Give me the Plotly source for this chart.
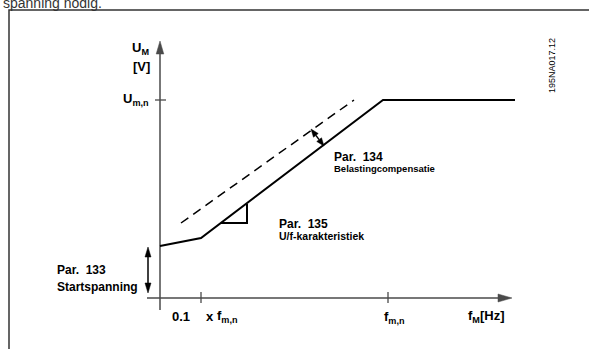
import plotly.graph_objects as go
import math

# Schematic units: x = distance right of the origin, y = distance above the f-axis
axis_x = [-13, 352]          # f-axis extent (arrow tip at the end)
axis_y = [-12, 257]          # U-axis extent (arrow tip at the end)

curve_x = [0, 41, 223, 355]  # U/f characteristic (solid)
curve_y = [52, 60, 198, 198]
comp_x = [21, 194]           # with load compensation (dashed)
comp_y = [75, 198]
slope_x = [61, 87, 87]       # slope triangle (Par. 135)
slope_y = [75, 75, 94]

start_arrow_x = [-12, -12]   # Par. 133 start voltage
start_arrow_y = [51, 5]
comp_arrow_x = [151, 164]    # Par. 134 compensation
comp_arrow_y = [169, 152]

x_ticks = [41, 228]
y_ticks = [198]

frame_x = [-151, -151, 429]
frame_y = [-51, 288, 288]

INK = "#000000"
AXIS = "#4a4a4a"
FONT = "Liberation Sans"

fig = go.Figure()


def line(xs, ys, color=INK, width=2, dash=None):
    fig.add_trace(go.Scatter(x=xs, y=ys, mode="lines",
                             line=dict(color=color, width=width, dash=dash),
                             hoverinfo="skip", showlegend=False))


def head(tx, ty, fx, fy, length, half, color=INK):
    dx, dy = tx - fx, ty - fy
    n = math.hypot(dx, dy)
    ux, uy = dx / n, dy / n
    px, py = -uy, ux
    bx, by = tx - ux * length, ty - uy * length
    fig.add_trace(go.Scatter(
        x=[tx, bx + px * half, bx - px * half, tx],
        y=[ty, by + py * half, by - py * half, ty],
        mode="lines", fill="toself", fillcolor=color,
        line=dict(color=color, width=0.5), hoverinfo="skip", showlegend=False))
    return bx, by


# frame
line(frame_x, frame_y, color="#333333", width=1.5)

# axes with arrow heads
bx, by = head(0, axis_y[1], 0, axis_y[0], 13, 3.8, AXIS)
line([0, 0], [axis_y[0], by], color=AXIS, width=1.5)
bx, by = head(axis_x[1], 0, axis_x[0], 0, 14, 4, AXIS)
line([axis_x[0], bx], [0, 0], color=AXIS, width=1.5)

# ticks
for t in x_ticks:
    line([t, t], [-5, 6], color=AXIS, width=1.3)
for t in y_ticks:
    line([-5, 6], [t, t], color=AXIS, width=1.3)

# curves
line(curve_x, curve_y, width=2)
line(comp_x, comp_y, width=1.5, dash="9px,6px")
line(slope_x, slope_y, width=2)

# double arrows
b1 = head(start_arrow_x[0], start_arrow_y[0], start_arrow_x[1], start_arrow_y[1], 10, 3)
b2 = head(start_arrow_x[1], start_arrow_y[1], start_arrow_x[0], start_arrow_y[0], 10, 3)
line([b1[0], b2[0]], [b1[1], b2[1]], width=1.5)
c1 = head(comp_arrow_x[0], comp_arrow_y[0], comp_arrow_x[1], comp_arrow_y[1], 8, 3)
c2 = head(comp_arrow_x[1], comp_arrow_y[1], comp_arrow_x[0], comp_arrow_y[0], 8, 3)
line([c1[0], c2[0]], [c1[1], c2[1]], width=1.5)


def label(text, x, y, xanchor="left", size=11, bold=True, angle=0, color=INK, family=FONT):
    fig.add_annotation(x=x, y=y, text=text, showarrow=False, xanchor=xanchor,
                       yanchor="middle", textangle=angle,
                       font=dict(family=family, size=size, color=color,
                                 weight="bold" if bold else "normal"))


label("U<sub>M</sub>", -30, 250, size=13)
label("[V]", -29, 232, size=13)
label("U<sub>m,n</sub>", -9, 199, xanchor="right", size=13)
label("0.1", 10, -18, size=13)
label("x", 44, -18, size=13)
label("f<sub>m,n</sub>", 55, -18, size=13)
label("f<sub>m,n</sub>", 234, -19, xanchor="center", size=13)
label("f<sub>M</sub>[Hz]", 306, -18, size=13)
label("Par.  133", -105, 28, size=12)
label("Startspanning", -105, 11, size=12)
label("Par.  135", 117, 74, size=12)
label("U/f-karakteristiek", 117, 62, size=10.5)
label("Par.  134", 172, 141, size=12)
label("Belastingcompensatie", 172, 130, size=9.5)
label("195NA017.12", 392, 232, xanchor="center", size=9, bold=False, angle=-90)
label("spanning nodig.", -159, 295, size=14, bold=False, color="#333333")

fig.update_layout(
    width=589, height=349, autosize=False,
    margin=dict(l=0, r=0, t=0, b=0),
    paper_bgcolor="white", plot_bgcolor="white",
    xaxis=dict(range=[-160, 429], visible=False, fixedrange=True),
    yaxis=dict(range=[-51, 298], visible=False, fixedrange=True),
)

fig.write_html("out.html", config={"displayModeBar": False},
               post_script="document.body.style.margin='0';"
                           "document.documentElement.style.overflow='hidden';")
